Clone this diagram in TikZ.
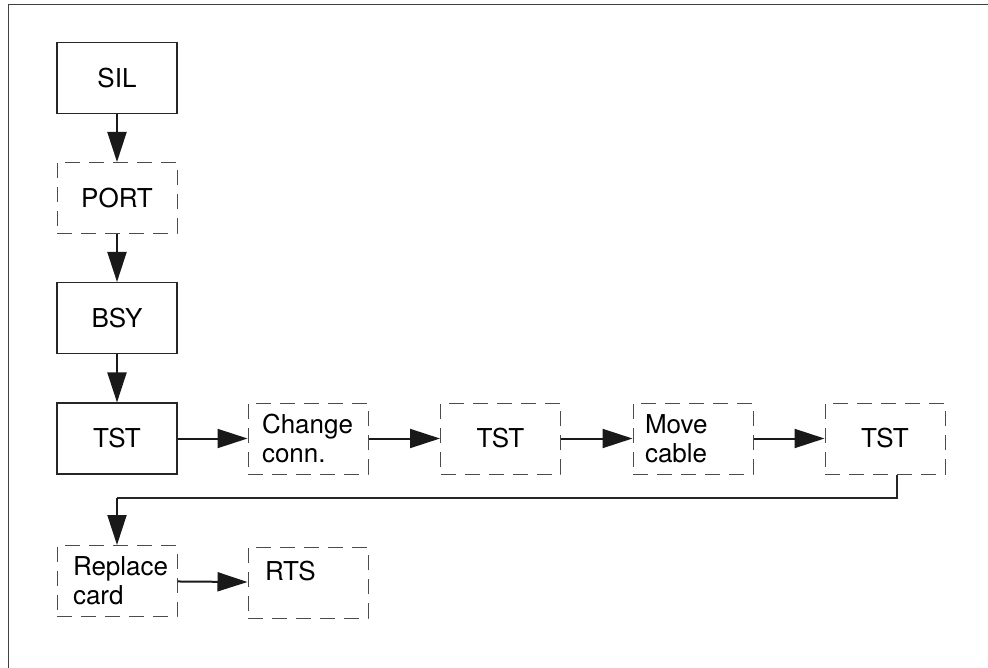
\documentclass[tikz,border=0pt]{standalone}
\usepackage{fontspec}
\setmainfont{TeX Gyre Heros}
\usetikzlibrary{arrows.meta}
\tikzset{
  box/.style={draw=black!85, line width=1.1pt, minimum width=120pt, minimum height=71pt,
    inner sep=0pt, font=\fontsize{26}{29}\selectfont},
  dbox/.style={box, draw=black!70, line width=1pt, dash pattern=on 15pt off 9pt},
  arr/.style={line width=2pt, draw=black!90, -{Triangle[length=30pt,width=19pt]}},
  thin/.style={line width=1.2pt, draw=black!85},
}
\begin{document}
\begin{tikzpicture}[x=1pt,y=-1pt]
\useasboundingbox (0,0) rectangle (988,668);
\draw[line width=1pt, draw=black!75] (8,668) -- (8,5) -- (988,5);
\node[box]  (sil)  at (117,78) {SIL};
\node[dbox] (port) at (117,198) {PORT};
\node[box]  (bsy)  at (117,318) {BSY};
\node[box]  (tst1) at (117,438.5) {TST};
\node[dbox, text width=92pt, inner xsep=14pt, align=left] (chg) at (308,438.5) {Change\\conn.};
\node[dbox] (tst2) at (500.5,438.5) {TST};
\node[dbox, text width=96pt, inner xsep=12pt, align=left] (mov) at (693,438.5) {Move\\cable};
\node[dbox] (tst3) at (885,438.5) {TST};
\node[dbox, text width=88pt, inner xsep=16pt, align=left] (rep) at (117,581) {Replace\\card};
\node[dbox, text width=86pt, inner xsep=17pt, align=left] (rts) at (308,582.5) {RTS\\[-14pt]\strut};
\coordinate (turn) at (117,498);
\draw[arr] (sil) -- (port);
\draw[arr] (port) -- (bsy);
\draw[arr] (bsy) -- (tst1);
\draw[arr] (tst1) -- (chg);
\draw[arr] (chg) -- (tst2);
\draw[arr] (tst2) -- (mov);
\draw[arr] (mov) -- (tst3);
\draw[thin] ([xshift=12pt]tst3.south) |- (turn);
\draw[arr] (turn) -- (rep.north);
\draw[arr] (rep) -- (rts);
\end{tikzpicture}
\end{document}
